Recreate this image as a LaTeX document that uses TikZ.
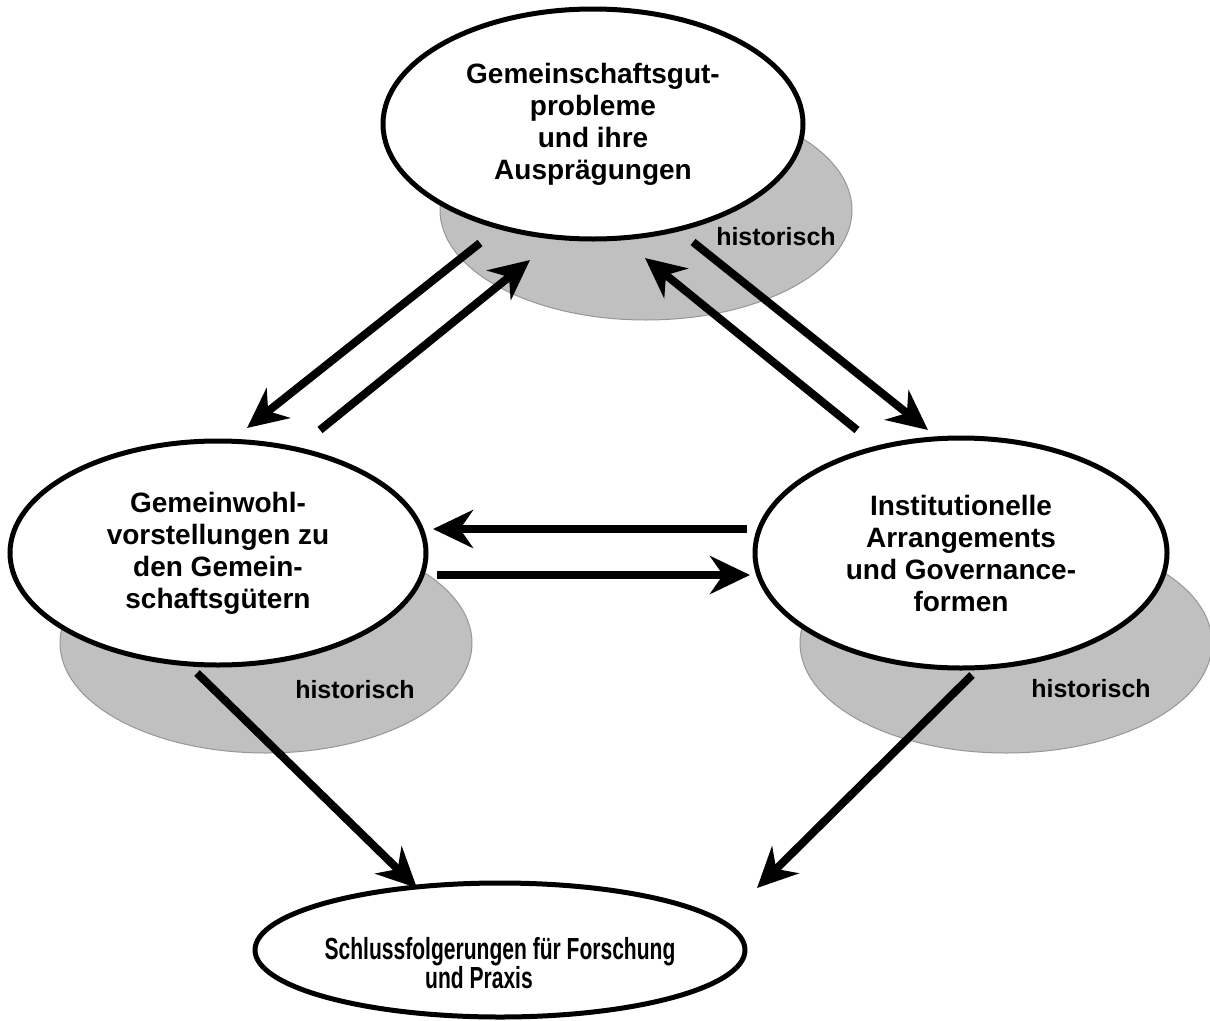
\documentclass[tikz,border=0pt]{standalone}
\usepackage{fontspec}
\setmainfont{Liberation Sans}
\newfontfamily\narrowfont[FakeStretch=0.69]{Liberation Sans}
\usetikzlibrary{shapes.geometric,arrows.meta,calc}
\definecolor{shadowgray}{RGB}{192,192,192}
\definecolor{shadowedge}{RGB}{150,150,150}
\tikzset{
  mainell/.style={ellipse, draw=black, line width=5pt, fill=white, inner sep=0pt,
    align=center, font=\bfseries\fontsize{28}{32}\selectfont},
  shadowell/.style={ellipse, fill=shadowgray, draw=shadowedge, line width=1pt,
    inner sep=0pt, minimum width=412pt, minimum height=220pt},
  histlabel/.style={font=\bfseries\fontsize{25}{30}\selectfont, inner sep=0pt},
  bottext/.style={align=center, inner sep=0pt,
    font=\narrowfont\bfseries\fontsize{30.5}{29}\selectfont},
  conn/.style={line width=8pt, -{Stealth[length=40pt,width=38pt,inset=13pt]}}
}
\begin{document}
\begin{tikzpicture}[x=1pt,y=-1pt]
\useasboundingbox (0,0) rectangle (1210,1020);
% shadows
\node[shadowell] (ts) at (646,210) {};
\node[shadowell] (ls) at (266,643) {};
\node[shadowell] (rs) at (1006,643) {};
% main ellipses
\node[mainell, minimum width=420pt, minimum height=230pt] (top) at (593,124)
  {Gemeinschaftsgut-\\probleme\\und ihre\\Ausprägungen};
\node[mainell, minimum width=416pt, minimum height=224pt] (left) at (218,553)
  {Gemeinwohl-\\vorstellungen zu\\den Gemein-\\schaftsgütern};
\node[mainell, minimum width=412pt, minimum height=230pt] (right) at (961,553)
  {Institutionelle\\Arrangements\\und Governance-\\formen};
\node[mainell, minimum width=490pt, minimum height=134pt] (bot) at (500,950) {};
\node[bottext] (botlabel) at (500,963)
  {Schlussfolgerungen für Forschung\\und Praxis\hspace*{42pt}};
% historisch labels
\node[histlabel] (th) at (776,237) {historisch};
\node[histlabel] (lh) at (355,690) {historisch};
\node[histlabel] (rh) at (1091,689) {historisch};
% connectors
\draw[conn] ($(top)+(-113,119)$) -- ($(left)+(29,-125)$);
\draw[conn] ($(left)+(102,-123)$) -- ($(top)+(-63,136)$);
\draw[conn] ($(right)+(-104,-123)$) -- ($(top)+(52,134)$);
\draw[conn] ($(top)+(100,118)$) -- ($(right)+(-33,-123)$);
\draw[conn] ($(right)+(-214,-24)$) -- ($(left)+(215,-24)$);
\draw[conn] ($(left)+(219,22)$) -- ($(right)+(-211,22)$);
\draw[conn] ($(left)+(-21,120)$) -- ($(bot)+(-83,-62)$);
\draw[conn] ($(right)+(11,122)$) -- ($(bot)+(257,-62)$);
\end{tikzpicture}
\end{document}
